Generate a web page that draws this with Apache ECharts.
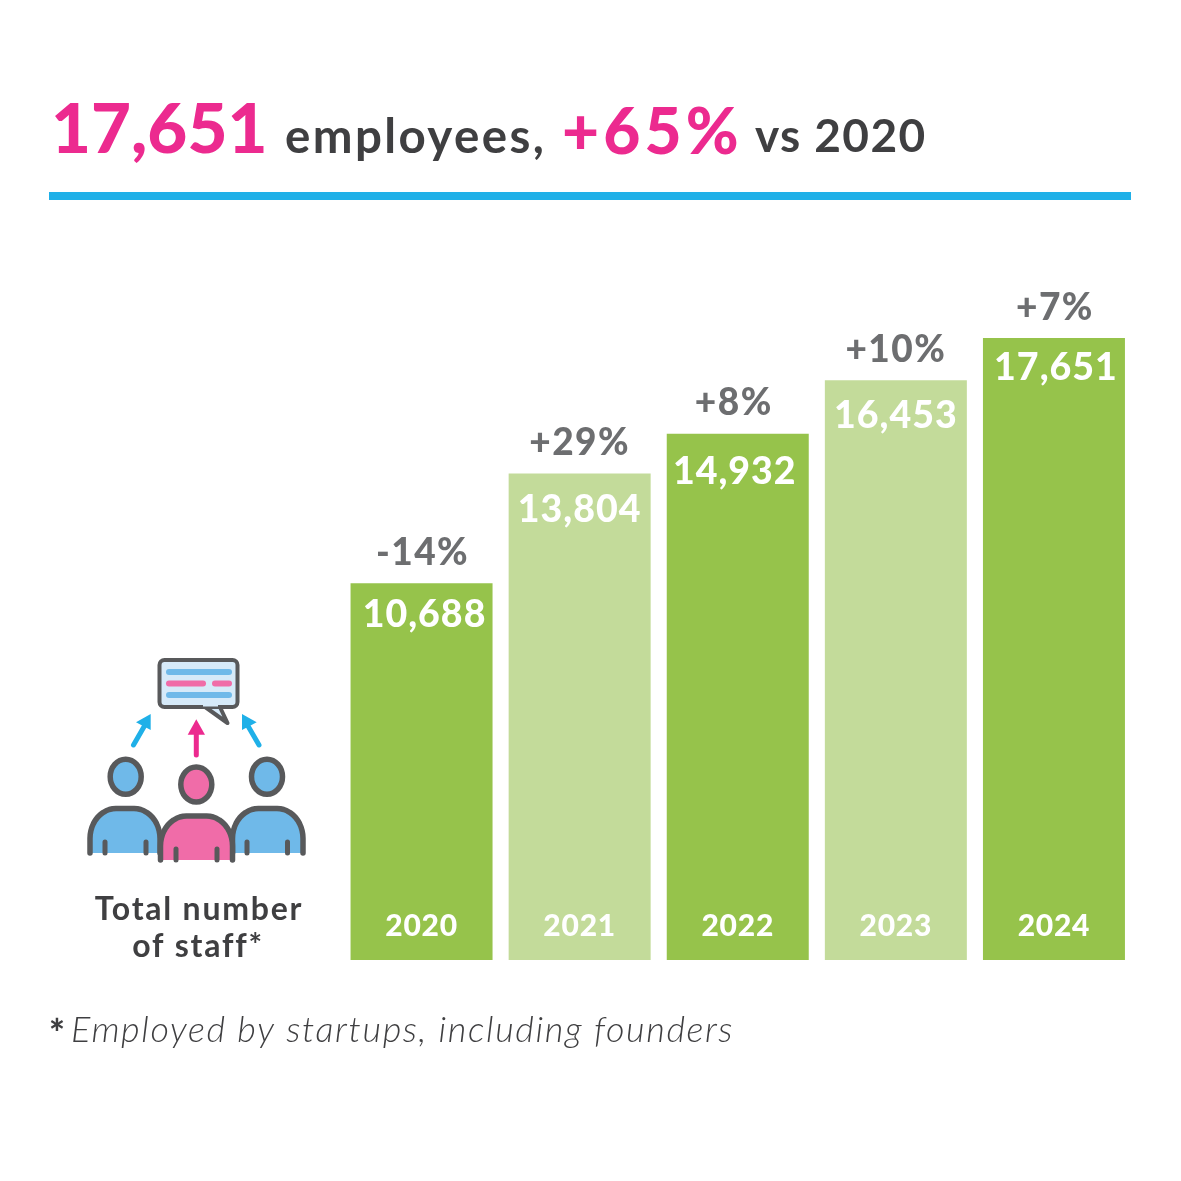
<!DOCTYPE html>
<html><head><meta charset="utf-8">
<script src="https://cdn.jsdelivr.net/npm/echarts@6/dist/echarts.min.js"></script>
<style>html,body{margin:0;padding:0;background:#fff}#c{width:1181px;height:1181px}</style>
</head><body><div id="c"></div>
<script>
const years = ['2020','2021','2022','2023','2024'];
const staff = [10688,13804,14932,16453,17651];
const growth = ['-14%','+29%','+8%','+10%','+7%'];
const headline = ['17,651','employees,','+65%','vs 2020'];
const sideLabel = ['Total number','of staff*'];
const footnoteMark = '*';
const footnote = 'Employed by startups, including founders';

// The reference type is tracked wider than Lato: apply letter spacing per font size (em).
const TRACKING={69:0,47.5:.05,46:.03,64:.065,32:.055,37.5:.027,37:.04,30:.025,36:.045};
(function(){
  const P=CanvasRenderingContext2D.prototype;
  const setT=c=>{const m=/([\d.]+)px/.exec(c.font);const s=m?parseFloat(m[1]):0;c.letterSpacing=((TRACKING[s]||0)*s)+'px';};
  ['fillText','strokeText','measureText'].forEach(n=>{const o=P[n];P[n]=function(){setT(this);return o.apply(this,arguments);};});
})();

const DARK='#96c34b', LIGHT='#c3db9a', PINK='#ec2a8f', INK='#3f3f41', GREY='#6d6e70', CYAN='#1fb0e8', LINE='#58595b', BLUE='#6fb9e9', ROSE='#f06ca8';
const F='Lato';
const txt=(text,x,base,size,fill,align,weight,style)=>({type:'text',silent:true,style:{text,x,y:base-size*0.8,fill,align:align||'left',verticalAlign:'top',font:`${style||'normal'} ${weight||700} ${size}px ${F}`}});
const ln=(x1,y1,x2,y2,stroke,w)=>({type:'line',silent:true,shape:{x1,y1,x2,y2},style:{stroke,lineWidth:w,lineCap:'round'}});
const poly=(points,fill,extra)=>({type:'polygon',silent:true,shape:{points},style:Object.assign({fill},extra||{})});
const head=(cx,cy,fill)=>({type:'ellipse',silent:true,shape:{cx,cy,rx:15.5,ry:17.5},style:{fill,stroke:LINE,lineWidth:5.5}});
const body=(l,r,t,b,fill)=>{
  const rad=26, rv=30, pts=[[l,b]];
  for(let i=0;i<=12;i++){const a=Math.PI/2*i/12; pts.push([l+rad-rad*Math.cos(a),t+rv-rv*Math.sin(a)]);}
  for(let i=12;i>=0;i--){const a=Math.PI/2*i/12; pts.push([r-rad+rad*Math.cos(a),t+rv-rv*Math.sin(a)]);}
  pts.push([r,b]);
  return {type:'polyline',silent:true,shape:{points:pts},style:{fill,stroke:LINE,lineWidth:5.5,lineCap:'round',lineJoin:'round'}};
};

const graphics=[
  txt(headline[0],51,151.5,69,PINK,'left',900),
  txt(headline[1],285,150.5,47.5,INK,'left',700),
  txt(headline[2],562,150,64,PINK,'left',900),
  txt(headline[3],755,150,46,INK,'left',700),
  {type:'rect',silent:true,shape:{x:49,y:192,width:1082,height:8},style:{fill:CYAN}},
  // speech bubble
  poly([[201,704],[227.5,723],[218.5,704]],'#d6eaf9',{stroke:LINE,lineWidth:4,lineJoin:'round'}),
  {type:'rect',silent:true,shape:{x:159.5,y:660,width:78,height:47,r:5},style:{fill:'#d6eaf9',stroke:LINE,lineWidth:4}},
  {type:'rect',silent:true,shape:{x:203,y:703,width:15,height:3.5},style:{fill:'#d6eaf9'}},
  ln(169,672,229,672,BLUE,6), ln(169,683.5,203,683.5,ROSE,6), ln(215,683.5,229,683.5,ROSE,6), ln(169,695,229,695,BLUE,6),
  // arrows
  ln(133.5,745,145,725,CYAN,5), poly([[150.7,714],[136,722.3],[150.7,730]],CYAN),
  ln(196.3,755,196.3,731,PINK,5), poly([[196.3,719.3],[187.7,734.7],[205,734.7]],PINK),
  ln(259,745,248,726,CYAN,5), poly([[242,714],[242,730],[256.7,722.3]],CYAN),
  // people
  head(125.7,776.7,BLUE), head(196.3,784.5,ROSE), head(267,776.7,BLUE),
  body(90,160,808.5,853,BLUE), body(232.5,303,808.5,853,BLUE), body(160.5,232.5,816,860,ROSE),
  ln(105,842,105,853,LINE,5), ln(146,842,146,853,LINE,5),
  ln(176,849,176,860,LINE,5), ln(217,849,217,860,LINE,5),
  ln(247,842,247,853,LINE,5), ln(287.5,842,287.5,853,LINE,5),
  txt(sideLabel[0],199,918,32,INK,'center',700),
  txt(sideLabel[1],198,955,32,INK,'center',700),
  txt(footnoteMark,49,1045,37.5,INK,'left',900),
  txt(footnote,71,1040,36,INK,'left',300,'italic')
];

// Small per-bar label nudges so labels sit where the reference puts them.
const valueNudge=[[3,1],[0,6],[-3,8],[0,5],[2,-1]];
const growthNudge=[[1,0],[0,0],[-4,0],[0,0],[1,0]];

const chart=echarts.init(document.getElementById('c'),null,{renderer:'canvas'});
chart.setOption({
  animation:false,
  backgroundColor:'#fff',
  graphic:{elements:graphics},
  grid:{left:342.5,width:790.5,top:255.2,height:704.8},
  xAxis:{type:'category',data:years,z:5,axisLine:{show:false},axisTick:{show:false},
    axisLabel:{inside:true,margin:18,color:'#fff',fontFamily:F,fontWeight:900,fontSize:30}},
  yAxis:{type:'value',min:0,max:20000,show:false,splitLine:{show:false}},
  series:[
    {type:'bar',barWidth:142,silent:true,
     data:staff.map((v,i)=>({value:v,label:{offset:valueNudge[i]}})),
     itemStyle:{color:p=>p.dataIndex%2?LIGHT:DARK},
     label:{show:true,position:'insideTop',distance:11,color:'#fff',fontFamily:F,fontWeight:900,fontSize:37.5,
       formatter:p=>p.value.toLocaleString('en-US')}},
    {type:'bar',barWidth:142,barGap:'-100%',silent:true,
     data:staff.map((v,i)=>({value:v,label:{offset:growthNudge[i]}})),
     itemStyle:{color:'transparent'},
     label:{show:true,position:'top',distance:11,color:GREY,fontFamily:F,fontWeight:900,fontSize:37,
       formatter:p=>growth[p.dataIndex]}}
  ]
});
</script></body></html>
